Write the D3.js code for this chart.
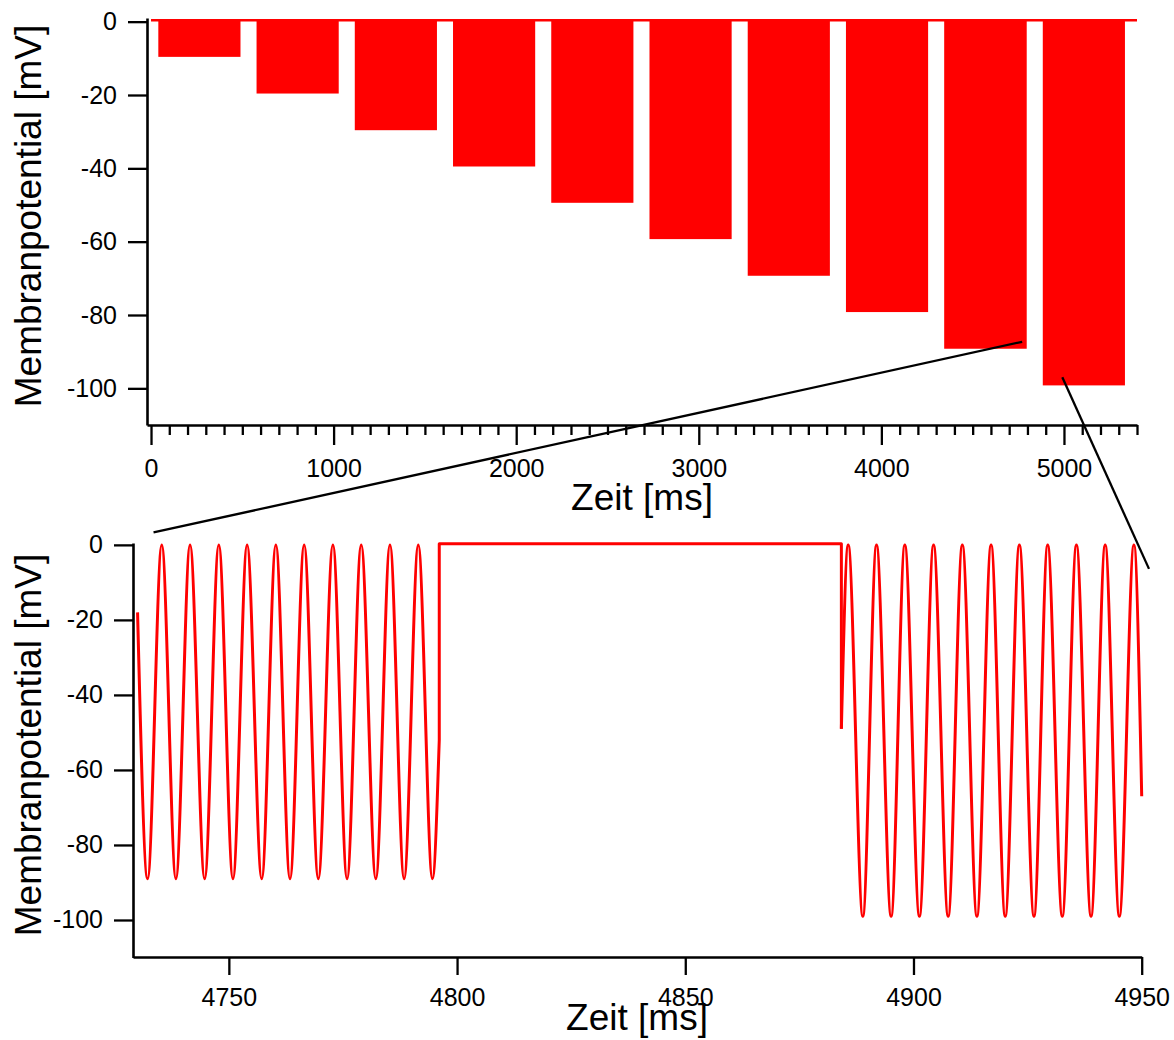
<!DOCTYPE html>
<html><head><meta charset="utf-8">
<script src="https://cdn.jsdelivr.net/npm/d3@7"></script>
<style>
body{margin:0;background:#fff}
text{font-family:"Liberation Sans",Arial,sans-serif;fill:#000}
</style>
</head><body>
<svg id="c" width="1174" height="1040"></svg>
<script>
// ---------- Top chart data (10 stimulus blocks, dense 160 Hz oscillation) ----------
const blockStart = [40, 578, 1116, 1654, 2192, 2730, 3268, 3806, 4344, 4884];
const blockEnd   = [490, 1028, 1566, 2104, 2642, 3180, 3718, 4256, 4796, 5334];
const blockMin   = [-9.6, -19.6, -29.6, -39.5, -49.4, -59.3, -69.3, -79.2, -89.2, -99.2];
const blockMax   = [0.5, 0.5, 0.5, 0.5, 0.5, 0.5, 0.5, 0.5, 0.5, 0.5];
const restTrace  = [[0, 0.4], [5400, 0.4]];

const topXMajor = [0, 1000, 2000, 3000, 4000, 5000];
const topXMinor = [100,200,300,400,500,600,700,800,900,1100,1200,1300,1400,1500,1600,1700,1800,1900,
  2100,2200,2300,2400,2500,2600,2700,2800,2900,3100,3200,3300,3400,3500,3600,3700,3800,3900,
  4100,4200,4300,4400,4500,4600,4700,4800,4900,5100,5200,5300,5400];
const yTicks = [0, -20, -40, -60, -80, -100];

// ---------- Bottom chart data (zoom 4729..4950 ms) ----------
const segA_t = [4730.0, 4732.2, 4735.3, 4738.4, 4741.5, 4744.7, 4747.8, 4750.9, 4754.0, 4757.2,
  4760.3, 4763.4, 4766.5, 4769.6, 4772.8, 4775.9, 4779.0, 4782.2, 4785.3, 4788.4, 4791.5, 4794.6, 4796.1];
const segA_v = [-18, -89, 0, -89, 0, -89, 0, -89, 0, -89, 0, -89, 0, -89, 0, -89, 0, -89, 0, -89, 0, -89, -52];
const rest_t = [4796.1, 4796.1, 4884.2, 4884.2];
const rest_v = [-52, 0.3, 0.3, -49];
const segB_t = [4884.2, 4885.7, 4888.9, 4891.9, 4895.1, 4898.1, 4901.3, 4904.4, 4907.6, 4910.7, 4913.9,
  4917.0, 4920.1, 4923.2, 4926.4, 4929.4, 4932.6, 4935.7, 4938.9, 4942.0, 4945.1, 4948.3, 4950.0];
const segB_v = [-49, 0, -99, 0, -99, 0, -99, 0, -99, 0, -99, 0, -99, 0, -99, 0, -99, 0, -99, 0, -99, 0, -67];
const botXTicks = [4750, 4800, 4850, 4900, 4950];

// ---------- Zoom connector lines (top-chart point -> bottom-chart point) ----------
const connectors = [
  {from: [4771, -87.3], to: [4733.5, 3.3]},
  {from: [4991, -97.0], to: [4951.6, -6.4]}
];

const RED = "#ff0000";
const svg = d3.select("#c");
svg.append("rect").attr("width",1174).attr("height",1040).attr("fill","#fff");

// Scales
const xTop = d3.scaleLinear().domain([-22, 5400]).range([147, 1137]);
const yTop = d3.scaleLinear().domain([-110, 1]).range([425, 18]);
const xBot = d3.scaleLinear().domain([4729, 4950]).range([133, 1141.7]);
const yBot = d3.scaleLinear().domain([-110, 0.5]).range([957.5, 543]);

// ---------- Top chart marks ----------
const blocks = blockStart.map((s, i) => ({s, e: blockEnd[i], lo: blockMin[i], hi: blockMax[i]}));
svg.append("g").selectAll("rect").data(blocks).join("rect")
  .attr("x", d => xTop(d.s)).attr("width", d => xTop(d.e) - xTop(d.s))
  .attr("y", d => yTop(d.hi)).attr("height", d => yTop(d.lo) - yTop(d.hi))
  .attr("fill", RED);
svg.append("path").datum(restTrace)
  .attr("d", d3.line().x(d => xTop(d[0])).y(d => yTop(d[1])))
  .attr("stroke", RED).attr("stroke-width", 2.4).attr("fill", "none");

// ---------- Bottom chart marks ----------
const mono = d3.line().x(d => xBot(d[0])).y(d => yBot(d[1])).curve(d3.curveMonotoneX);
const lin = d3.line().x(d => xBot(d[0])).y(d => yBot(d[1]));
const zip = (a, b) => a.map((t, i) => [t, b[i]]);
const gTrace = svg.append("g").attr("fill","none").attr("stroke", RED).attr("stroke-width", 3).attr("stroke-linejoin","round");
gTrace.append("path").attr("d", mono(zip(segA_t, segA_v)));
gTrace.append("path").attr("d", lin(zip(rest_t, rest_v)));
gTrace.append("path").attr("d", mono(zip(segB_t, segB_v)));

// ---------- Axes ----------
const fmt = d => String(d);
function styleAxis(g, fs) {
  g.selectAll(".domain").attr("stroke", "#000").attr("stroke-width", 2.6);
  g.selectAll(".tick line").attr("stroke", "#000").attr("stroke-width", 2.3);
  g.selectAll(".tick text").style("font-size", fs + "px").style("font-family", '"Liberation Sans", Arial, sans-serif').attr("fill","#000");
}
const TF = 25;
// top x
const gTopXMinor = svg.append("g").attr("transform", "translate(0,425)")
  .call(d3.axisBottom(xTop).tickValues(topXMinor).tickSize(10).tickSizeOuter(0).tickFormat(""));
styleAxis(gTopXMinor, TF);
gTopXMinor.select(".domain").remove();
const gTopX = svg.append("g").attr("transform", "translate(0,425)")
  .call(d3.axisBottom(xTop).tickValues(topXMajor).tickSize(20).tickPadding(14).tickSizeOuter(0).tickFormat(fmt));
styleAxis(gTopX, TF);
// top y
const gTopY = svg.append("g").attr("transform", "translate(147,0)")
  .call(d3.axisLeft(yTop).tickValues(yTicks).tickSize(19).tickPadding(11).tickSizeOuter(0).tickFormat(fmt));
styleAxis(gTopY, TF);
// bottom x
const gBotX = svg.append("g").attr("transform", "translate(0,957)")
  .call(d3.axisBottom(xBot).tickValues(botXTicks).tickSize(18).tickPadding(13).tickSizeOuter(0).tickFormat(fmt));
styleAxis(gBotX, TF);
// bottom y
const gBotY = svg.append("g").attr("transform", "translate(133,0)")
  .call(d3.axisLeft(yBot).tickValues(yTicks).tickSize(19).tickPadding(11).tickSizeOuter(0).tickFormat(fmt));
styleAxis(gBotY, TF);

// ---------- Titles ----------
const title = (x, y, txt, rot) => {
  const t = svg.append("text").attr("text-anchor", "middle").style("font-size", "37px").text(txt);
  if (rot) t.attr("transform", `translate(${x},${y}) rotate(-90)`);
  else t.attr("x", x).attr("y", y);
};
title(642, 510, "Zeit [ms]");
title(637, 1030, "Zeit [ms]");
title(41, 216, "Membranpotential [mV]", true);
title(41, 745, "Membranpotential [mV]", true);

// ---------- Connector lines ----------
svg.append("g").selectAll("line").data(connectors).join("line")
  .attr("x1", d => xTop(d.from[0])).attr("y1", d => yTop(d.from[1]))
  .attr("x2", d => xBot(d.to[0])).attr("y2", d => yBot(d.to[1]))
  .attr("stroke", "#000").attr("stroke-width", 2.3);
</script>
</body></html>
